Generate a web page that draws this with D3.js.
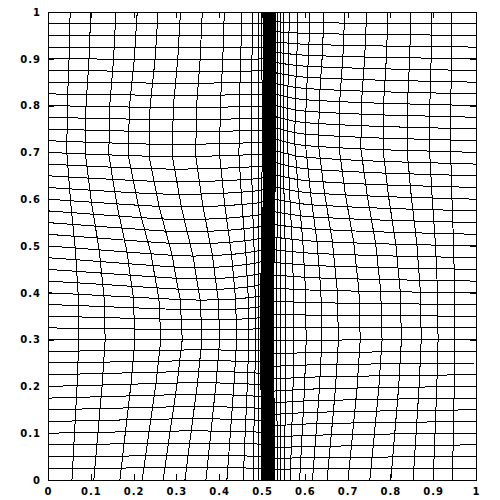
<!DOCTYPE html>
<html>
<head>
<meta charset="utf-8">
<script src="https://cdn.jsdelivr.net/npm/d3@7"></script>
<style>
  body { margin: 0; background: #fff; }
  .axis text { font-family: "DejaVu Sans"; font-weight: bold; font-size: 10px; letter-spacing: 1px; fill: #000; }
  .axis path, .axis line { stroke: #000; shape-rendering: crispEdges; }
  .mesh path { fill: none; stroke: #000; stroke-width: 1; shape-rendering: crispEdges; }
</style>
</head>
<body>
<svg id="chart" width="500" height="500"></svg>
<script>
// vertical mesh lines: position at y = 0 and how far each one bends
const colBase = [0, 0.056, 0.107, 0.168, 0.220, 0.269, 0.320, 0.369, 0.418, 0.456, 0.479, 0.491, 0.499,
    0.502, 0.504, 0.506, 0.508, 0.510, 0.512, 0.514, 0.516, 0.518, 0.520, 0.522, 0.524, 0.526, 0.528, 0.530,
    0.536, 0.543, 0.552, 0.566, 0.588, 0.618, 0.652, 0.701, 0.752, 0.801, 0.853, 0.900, 0.945, 1];
const colAmp = [0, 0.017, 0.028, 0.037, 0.046, 0.047, 0.042, 0.034, 0.024, 0.014, 0.006, 0.000, -0.002,
    -0.003, -0.003, -0.003, -0.003, -0.003, -0.003, -0.003, -0.003, -0.003, -0.003, -0.003, -0.003, -0.003, -0.003, -0.003,
    -0.002, 0.000, 0.004, 0.009, 0.016, 0.023, 0.028, 0.030, 0.030, 0.026, 0.020, 0.012, 0.006, 0];
// bend shape of vertical lines along y
const bendY = [0, 0.1, 0.2, 0.3, 0.4, 0.5, 0.6, 0.7, 0.8, 0.9, 1];
const bendX = [0, 0.35, 0.7, 0.95, 0.85, 0.45, -0.2, -0.7, -0.65, -0.4, -0.25];

// horizontal mesh lines: position at the left border and their shift left / right of the shock
const rowBase = [0, 0.025, 0.05, 0.075, 0.1, 0.125, 0.15, 0.175, 0.2, 0.225, 0.25, 0.275, 0.3, 0.325,
    0.35, 0.375, 0.4, 0.425, 0.45, 0.475, 0.5, 0.525, 0.55, 0.575, 0.6, 0.625, 0.65, 0.675, 0.7, 0.725,
    0.75, 0.775, 0.8, 0.825, 0.85, 0.875, 0.9, 0.925, 0.95, 0.975, 1];
const rowAmpL = [0, 0.001, 0.002, 0.004, 0.005, 0.006, 0.007, 0.008, 0.008, 0.007, 0.005, 0.003, 0, -0.004,
    -0.008, -0.012, -0.016, -0.019, -0.021, -0.022, -0.022, -0.021, -0.020, -0.019, -0.017, -0.015, -0.013, -0.011, -0.009, -0.008,
    -0.006, -0.005, -0.004, -0.003, -0.002, -0.002, -0.001, -0.001, 0, 0, 0];
const rowAmpR = [0, -0.002, -0.004, -0.006, -0.008, -0.009, -0.010, -0.010, -0.010, -0.009, -0.007, -0.005, -0.002, 0.001,
    0.004, 0.007, 0.010, 0.013, 0.015, 0.017, 0.019, 0.021, 0.023, 0.025, 0.026, 0.027, 0.028, 0.028, 0.028, 0.027,
    0.026, 0.025, 0.024, 0.022, 0.020, 0.017, 0.014, 0.011, 0.008, 0.004, 0];
// shape of that shift along x
const shiftLX = [0, 0.1, 0.2, 0.3, 0.4, 0.47, 0.5, 0.53];
const shiftL = [0, 0.35, 0.7, 1, 0.9, 0.6, 0.4, 0];
const shiftRX = [0.5, 0.53, 0.56, 0.6, 0.7, 0.8, 0.9, 1];
const shiftR = [0, 1, 0.8, 0.55, 0.35, 0.2, 0.1, 0];

const tickValues = [0, 0.1, 0.2, 0.3, 0.4, 0.5, 0.6, 0.7, 0.8, 0.9, 1];
const tickLabels = ['0', '0.1', '0.2', '0.3', '0.4', '0.5', '0.6', '0.7', '0.8', '0.9', '1'];

const plotLeft = 48, plotRight = 476, plotTop = 12, plotBottom = 480;
const svg = d3.select('#chart');

var x = d3.scaleLinear().domain([0, 1]).range([plotLeft, plotRight]);
var y = d3.scaleLinear().domain([0, 1]).range([plotBottom, plotTop]);

var bend = d3.scaleLinear().domain(bendY).range(bendX).clamp(true);
var qL = d3.scaleLinear().domain(shiftLX).range(shiftL).clamp(true);
var qR = d3.scaleLinear().domain(shiftRX).range(shiftR).clamp(true);

// mesh nodes, one column per vertical line
var nodes = colBase.map((cx, i) => rowBase.map((ry, j) => ({
    x: cx + colAmp[i] * bend(ry),
    y: ry + rowAmpL[j] * qL(cx) + rowAmpR[j] * qR(cx)
})));

var line = d3.line().x(d => x(d.x)).y(d => y(d.y));

svg.append('clipPath').attr('id', 'plot')
    .append('rect').attr('x', plotLeft).attr('y', plotTop)
    .attr('width', plotRight - plotLeft).attr('height', plotBottom - plotTop);

var mesh = svg.append('g').attr('class', 'mesh').attr('clip-path', 'url(#plot)');

mesh.selectAll('.col')
    .data(nodes)
    .enter()
    .append('path')
    .attr('class', 'col')
    .attr('d', line);

mesh.selectAll('.row')
    .data(rowBase.map((r, j) => nodes.map(col => col[j])))
    .enter()
    .append('path')
    .attr('class', 'row')
    .attr('d', line);

// axes: gnuplot style, ticks pointing inward on all four sides
var fmt = (d, i) => tickLabels[i];

svg.append('g').attr('class', 'axis')
    .attr('transform', 'translate(' + [0, plotBottom] + ')')
    .call(d3.axisBottom(x).tickValues(tickValues).tickFormat(fmt).tickSizeInner(-6).tickSizeOuter(0).tickPadding(8));

svg.append('g').attr('class', 'axis')
    .attr('transform', 'translate(' + [plotLeft, 0] + ')')
    .call(d3.axisLeft(y).tickValues(tickValues).tickFormat(fmt).tickSizeInner(-6).tickSizeOuter(0).tickPadding(7));

svg.append('g').attr('class', 'axis')
    .attr('transform', 'translate(' + [0, plotTop] + ')')
    .call(d3.axisTop(x).tickValues(tickValues).tickFormat('').tickSizeInner(-6).tickSizeOuter(0));

svg.append('g').attr('class', 'axis')
    .attr('transform', 'translate(' + [plotRight, 0] + ')')
    .call(d3.axisRight(y).tickValues(tickValues).tickFormat('').tickSizeInner(-6).tickSizeOuter(0));

svg.selectAll('.axis').attr('font-family', null).attr('font-size', null);
</script>
</body>
</html>
